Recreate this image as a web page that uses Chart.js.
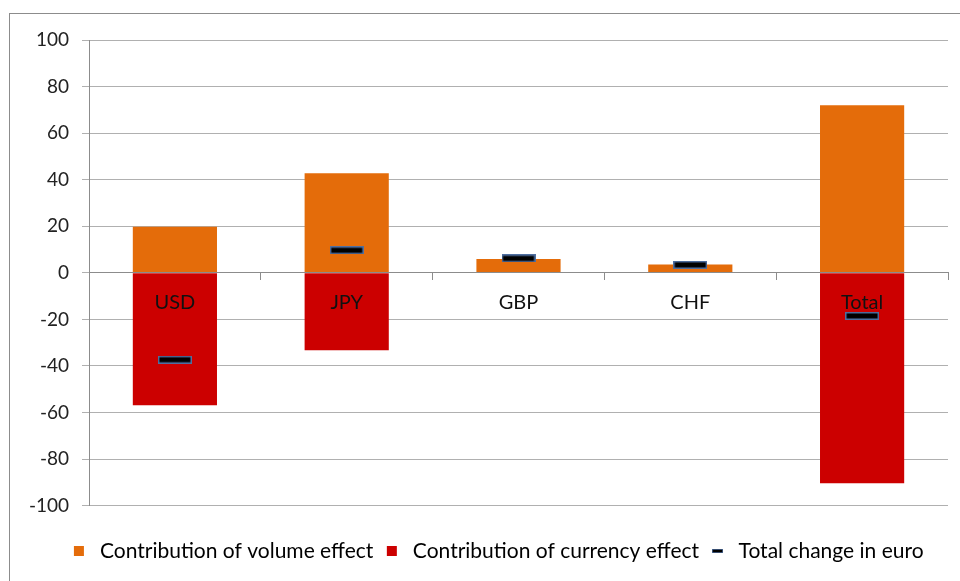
<!DOCTYPE html>
<html>
<head>
<meta charset="utf-8">
<script src="https://cdn.jsdelivr.net/npm/chart.js@4.4.1/dist/chart.umd.min.js"></script>
<style>
  html, body { margin: 0; padding: 0; background: #fff; }
  #wrap { position: relative; width: 960px; height: 581px; overflow: hidden; }
  #frame { position: absolute; left: 9px; top: 13px; width: 1000px; height: 1000px; border: 1px solid #8c8c8c; box-sizing: border-box; }
  #chart { position: absolute; left: 0; top: 0; }
</style>
</head>
<body>
<div id="wrap">
  <div id="frame"></div>
  <canvas id="chart" width="960" height="581"></canvas>
</div>
<script>
// ============ DATA ============
const categories = ['USD', 'JPY', 'GBP', 'CHF', 'Total'];
const volumeEffect = [19.8, 42.8, 5.9, 3.6, 72.0];
const currencyEffect = [-56.9, -33.2, 0, -0.2, -90.4];
const totalChange = [-37.3, 9.7, 6.2, 3.4, -18.5];
const seriesNames = ['Contribution of volume effect', 'Contribution of currency effect', 'Total change in euro'];

const ORANGE = '#e46c0a';
const RED = '#cc0000';
const FONT = 'Lato, "Open Sans", sans-serif';

// small black dash with a blue rim, used as the point marker
function makeDash(w, h, rim) {
  const c = document.createElement('canvas');
  c.width = w; c.height = h;
  const g = c.getContext('2d');
  g.fillStyle = '#4f6fa0';
  g.fillRect(0, 0, w, h);
  g.fillStyle = '#000';
  g.fillRect(rim, rim, w - rim * 2, h - rim * 2);
  return c;
}
const dashMarker = makeDash(34, 8, 1.5);
const dashLegend = makeDash(11, 4, 0.7);

// nudge the legend a bit right, like the original
const legendShift = {
  id: 'legendShift',
  afterLayout(chart) {
    if (!chart.legend) return;
    chart.legend.left += 22;
    chart.legend.right += 22;
  }
};

// ============ CHART ============
new Chart(document.getElementById('chart'), {
  type: 'bar',
  data: {
    labels: categories,
    datasets: [
      { type: 'line', label: seriesNames[2], data: totalChange, showLine: false, stack: 'total',
        pointStyle: dashMarker, pointRadius: 10, pointHoverRadius: 10, order: 0 },
      { label: seriesNames[0], data: volumeEffect, backgroundColor: ORANGE, stack: 'fx', order: 1 },
      { label: seriesNames[1], data: currencyEffect, backgroundColor: RED, stack: 'fx', order: 1 }
    ]
  },
  options: {
    responsive: false,
    animation: false,
    layout: { padding: { top: 40, right: 12, bottom: 9.5, left: 0 } },
    datasets: { bar: { categoryPercentage: 1, barPercentage: 0.49 } },
    scales: {
      x: {
        stacked: true,
        position: { y: 0 },
        offset: true,
        grid: { display: true, drawOnChartArea: false, offset: true, tickLength: 7, color: '#8c8c8c', z: 1 },
        border: { color: '#8c8c8c', z: 1 },
        // labels sit on top of the bars
        ticks: { color: '#111', padding: 11, z: 1, font: { family: FONT, size: 20 } }
      },
      gap: {
        type: 'category',
        position: 'bottom',
        grid: { display: false },
        border: { display: false },
        ticks: { display: false },
        afterFit: s => { s.height = 26.8; }
      },
      y: {
        stacked: true,
        min: -100, max: 100,
        grid: { color: '#b0b0b0', tickLength: 7 },
        border: { color: '#8c8c8c' },
        ticks: { stepSize: 20, color: '#222', padding: 13, font: { family: FONT, size: 19 } },
        afterFit: s => { s.width = 89; }
      }
    },
    plugins: {
      tooltip: { enabled: false },
      legend: {
        position: 'bottom',
        labels: {
          usePointStyle: true,
          boxHeight: 10,
          padding: 8,
          color: '#222',
          font: { family: FONT, size: 21, lineHeight: 1 },
          generateLabels: () => [
            { text: seriesNames[0], fillStyle: ORANGE, strokeStyle: ORANGE, lineWidth: 0, pointStyle: 'rect', datasetIndex: 1 },
            { text: seriesNames[1], fillStyle: RED, strokeStyle: RED, lineWidth: 0, pointStyle: 'rect', datasetIndex: 2 },
            { text: seriesNames[2], fillStyle: '#000', strokeStyle: '#000', lineWidth: 0, pointStyle: dashLegend, datasetIndex: 0 }
          ]
        }
      }
    }
  },
  plugins: [legendShift]
});
</script>
</body>
</html>
